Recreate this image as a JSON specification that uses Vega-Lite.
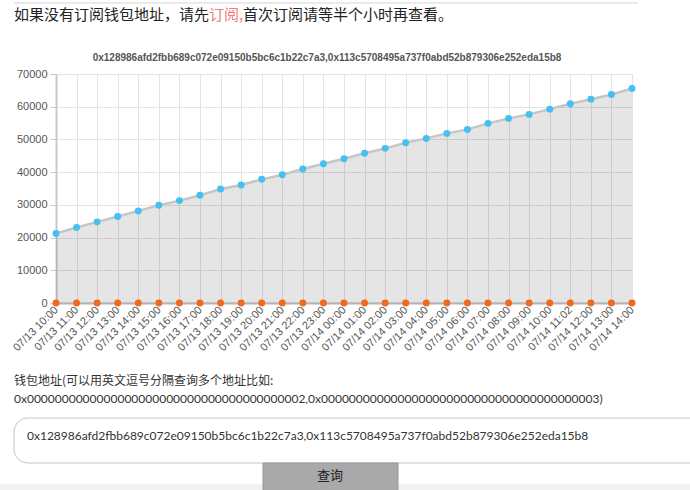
{
  "$schema": "https://vega.github.io/schema/vega-lite/v6.json",
  "autosize": "none",
  "width": 576,
  "height": 229,
  "padding": {"left": 56, "top": 74, "right": 58, "bottom": 187},
  "background": "white",
  "config": {
    "view": {"stroke": null},
    "axis": {"labelOverlap": false}
  },
  "resolve": {"axis": {"y": "independent"}},
  "datasets": {
    "series": [
      {"time": "07/13 10:00", "total": 21230, "other": 0},
      {"time": "07/13 11:00", "total": 23060, "other": 0},
      {"time": "07/13 12:00", "total": 24800, "other": 0},
      {"time": "07/13 13:00", "total": 26430, "other": 0},
      {"time": "07/13 14:00", "total": 28150, "other": 0},
      {"time": "07/13 15:00", "total": 29890, "other": 0},
      {"time": "07/13 16:00", "total": 31300, "other": 0},
      {"time": "07/13 17:00", "total": 32940, "other": 0},
      {"time": "07/13 18:00", "total": 34860, "other": 0},
      {"time": "07/13 19:00", "total": 36080, "other": 0},
      {"time": "07/13 20:00", "total": 37800, "other": 0},
      {"time": "07/13 21:00", "total": 39220, "other": 0},
      {"time": "07/13 22:00", "total": 40960, "other": 0},
      {"time": "07/13 23:00", "total": 42580, "other": 0},
      {"time": "07/14 00:00", "total": 44100, "other": 0},
      {"time": "07/14 01:00", "total": 45750, "other": 0},
      {"time": "07/14 02:00", "total": 47270, "other": 0},
      {"time": "07/14 03:00", "total": 48990, "other": 0},
      {"time": "07/14 04:00", "total": 50320, "other": 0},
      {"time": "07/14 05:00", "total": 51850, "other": 0},
      {"time": "07/14 06:00", "total": 53070, "other": 0},
      {"time": "07/14 07:00", "total": 54900, "other": 0},
      {"time": "07/14 08:00", "total": 56430, "other": 0},
      {"time": "07/14 09:00", "total": 57650, "other": 0},
      {"time": "07/14 10:00", "total": 59260, "other": 0},
      {"time": "07/14 11:02", "total": 60880, "other": 0},
      {"time": "07/14 12:00", "total": 62310, "other": 0},
      {"time": "07/14 13:00", "total": 63740, "other": 0},
      {"time": "07/14 14:00", "total": 65570, "other": 0}
    ],
    "one": [{"k": 1}]
  },
  "layer": [
    {
      "data": {"name": "series"},
      "mark": {"type": "area", "fill": "#000000", "fillOpacity": 0.1},
      "encoding": {
        "x": {"field": "time", "type": "ordinal", "sort": null, "scale": {"type": "point", "padding": 0},
          "axis": {"title": null, "labelAngle": -45, "labelAlign": "right", "labelBaseline": "middle", "labelFont": "Liberation Sans", "labelFontSize": 11, "labelColor": "#555555", "labelPadding": 5, "ticks": false, "domain": true, "domainColor": "#b5b5b5", "domainWidth": 2, "grid": true, "gridColor": "#e3e3e3", "gridWidth": 1, "labelOverlap": false}},
        "y": {"field": "total", "type": "quantitative", "scale": {"domain": [0, 70000], "nice": false, "zero": true},
          "axis": {"title": null, "values": [0, 10000, 20000, 30000, 40000, 50000, 60000, 70000], "format": "d", "labelOverlap": false, "labelSeparation": 0, "labelFlush": false, "labelFont": "Liberation Sans", "labelFontSize": 11, "labelColor": "#555555", "labelPadding": 3, "tickColor": "#c8c8c8", "tickSize": 6, "domainColor": "#c8c8c8", "domainWidth": 2, "grid": true, "gridColor": "#e3e3e3", "gridWidth": 1}}
      }
    },
    {
      "data": {"name": "series"},
      "mark": {"type": "line", "stroke": "#c6c6c6", "strokeWidth": 2.5},
      "encoding": {"x": {"field": "time", "type": "ordinal", "sort": null}, "y": {"field": "total", "type": "quantitative", "axis": null}}
    },
    {
      "data": {"name": "series"},
      "mark": {"type": "circle", "fill": "#44c0f2", "size": 48, "opacity": 1},
      "encoding": {"x": {"field": "time", "type": "ordinal", "sort": null}, "y": {"field": "total", "type": "quantitative", "axis": null}}
    },
    {
      "data": {"name": "series"},
      "mark": {"type": "circle", "fill": "#f2691a", "size": 48, "opacity": 1},
      "encoding": {"x": {"field": "time", "type": "ordinal", "sort": null}, "y": {"field": "other", "type": "quantitative", "axis": null}}
    },
    {
      "data": {"name": "one"},
      "mark": {"type": "text", "text": "0x128986afd2fbb689c072e09150b5bc6c1b22c7a3,0x113c5708495a737f0abd52b879306e252eda15b8", "font": "Liberation Sans", "fontSize": 10, "fontWeight": "bold", "fill": "#555555", "align": "center", "baseline": "middle"},
      "encoding": {"x": {"value": 271}, "y": {"value": -16}}
    },
    {
      "data": {"name": "one"},
      "mark": {"type": "rule", "stroke": "#e3e3e3", "strokeWidth": 1.5},
      "encoding": {"x": {"value": -42}, "x2": {"value": 582}, "y": {"value": -71}}
    },
    {
      "data": {"name": "one"},
      "mark": {"type": "text", "text": "如果没有订阅钱包地址，请先", "font": "Noto Sans CJK SC", "fontSize": 15, "fill": "#222222", "align": "left", "baseline": "middle"},
      "encoding": {"x": {"value": -42}, "y": {"value": -59}}
    },
    {
      "data": {"name": "one"},
      "mark": {"type": "text", "text": "订阅,", "font": "Noto Sans CJK SC", "fontSize": 15, "fill": "#f07c7c", "align": "left", "baseline": "middle"},
      "encoding": {"x": {"value": 153}, "y": {"value": -59}}
    },
    {
      "data": {"name": "one"},
      "mark": {"type": "text", "text": "首次订阅请等半个小时再查看。", "font": "Noto Sans CJK SC", "fontSize": 15, "fill": "#222222", "align": "left", "baseline": "middle"},
      "encoding": {"x": {"value": 187}, "y": {"value": -59}}
    },
    {
      "data": {"name": "one"},
      "mark": {"type": "text", "text": "钱包地址(可以用英文逗号分隔查询多个地址比如:", "font": "Noto Sans CJK SC", "fontSize": 12, "fill": "#333333", "align": "left", "baseline": "middle"},
      "encoding": {"x": {"value": -42}, "y": {"value": 307}}
    },
    {
      "data": {"name": "one"},
      "mark": {"type": "text", "text": "0x0000000000000000000000000000000000000002,0x0000000000000000000000000000000000000003)", "font": "Lato", "fontSize": 12, "fill": "#333333", "align": "left", "baseline": "middle"},
      "encoding": {"x": {"value": -42}, "y": {"value": 325}}
    },
    {
      "data": {"name": "one"},
      "mark": {"type": "rect", "fill": "white", "stroke": "#c4c4c4", "strokeWidth": 1, "cornerRadius": 14},
      "encoding": {"x": {"value": -42}, "x2": {"value": 660}, "y": {"value": 344}, "y2": {"value": 389}}
    },
    {
      "data": {"name": "one"},
      "mark": {"type": "text", "text": "0x128986afd2fbb689c072e09150b5bc6c1b22c7a3,0x113c5708495a737f0abd52b879306e252eda15b8", "font": "Lato", "fontSize": 12, "fill": "#333333", "align": "left", "baseline": "middle"},
      "encoding": {"x": {"value": -29}, "y": {"value": 362}}
    },
    {
      "data": {"name": "one"},
      "mark": {"type": "rect", "fill": "#f2f2f2"},
      "encoding": {"x": {"value": -56}, "x2": {"value": 634}, "y": {"value": 410}, "y2": {"value": 420}}
    },
    {
      "data": {"name": "one"},
      "mark": {"type": "rect", "fill": "#a9a9a9", "stroke": "#999999", "strokeWidth": 1},
      "encoding": {"x": {"value": 207}, "x2": {"value": 342}, "y": {"value": 389}, "y2": {"value": 420}}
    },
    {
      "data": {"name": "one"},
      "mark": {"type": "text", "text": "查询", "font": "Noto Sans CJK SC", "fontSize": 13, "fill": "#222222", "align": "center", "baseline": "middle"},
      "encoding": {"x": {"value": 274}, "y": {"value": 402}}
    }
  ]
}
